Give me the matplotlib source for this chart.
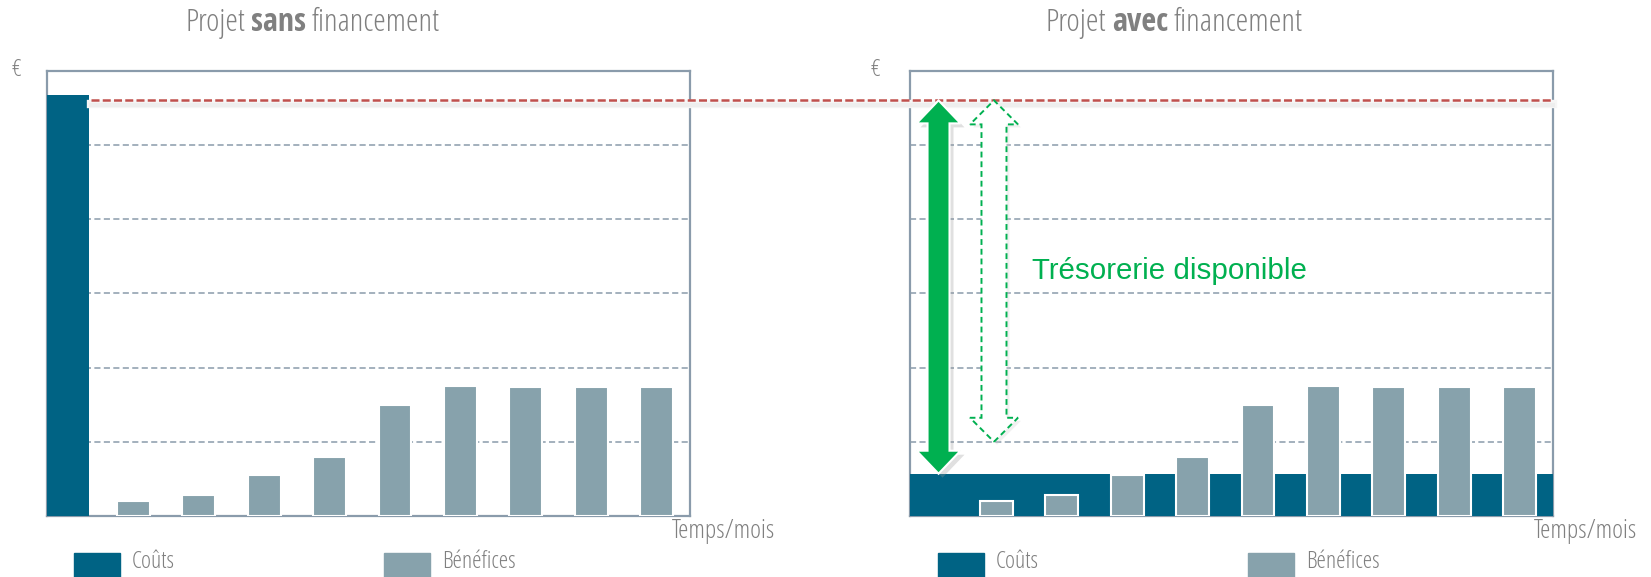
import os
import numpy as np
import matplotlib
matplotlib.use("Agg")
import matplotlib.pyplot as plt
from matplotlib import font_manager as fm
from matplotlib.patches import Polygon, Rectangle
from matplotlib.lines import Line2D
from matplotlib.transforms import IdentityTransform

W, H, DPI = 1651, 577, 100

# --- data (y in "grid units", 6 = top of the frame) ---
periods = np.arange(11)                 # cost columns
months = np.arange(1, 10)               # benefit columns
couts_sans = [5.67, 0, 0, 0, 0, 0, 0, 0, 0, 0, 0]
couts_avec = [0.57] * 11
benefices = [0.2, 0.28, 0.55, 0.8, 1.49, 1.75, 1.74, 1.74, 1.74]
seuil = 5.6            # red dashed line (initial cost level)
tresorerie_bas = 1.0   # bottom of the dashed arrow

titres = [("Projet", "sans", "financement"), ("Projet", "avec", "financement")]
legende = ["Coûts", "Bénéfices"]

DARK = "#006384"
GREY = "#87a2ac"
FRAME = "#8a9bab"
GREEN = "#00b050"
RED = "#c0504d"
TXT = "#808080"
SHRINK = 0.92   # narrow font is a bit taller than the original one

# narrow font files (light + semibold), first pair that is installed
PAIRS = [
    ("NotoSans-SemiCondensedLight", "NotoSans-SemiCondensedSemiBold"),
    ("NotoSans-SemiCondensed", "NotoSans-SemiCondensedBold"),
    ("NotoSans-SemiCondensedRegular", "NotoSans-SemiCondensedBold"),
    ("NotoSans-CondensedLight", "NotoSans-CondensedSemiBold"),
    ("NotoSans-Condensed", "NotoSans-CondensedBold"),
    ("OpenSans-CondLight", "OpenSans-CondBold"),
    ("RobotoCondensed-Light", "RobotoCondensed-Bold"),
    ("RobotoCondensed-Regular", "RobotoCondensed-Bold"),
    ("DejaVuSansCondensed", "DejaVuSansCondensed-Bold"),
]
files = {os.path.splitext(os.path.basename(f.fname))[0].lower(): f.fname
         for f in fm.fontManager.ttflist}
REG_FILE = BOLD_FILE = None
for r, b in PAIRS:
    if r.lower() in files and b.lower() in files:
        REG_FILE, BOLD_FILE = files[r.lower()], files[b.lower()]
        break


def fprop(size, weight="normal"):
    f = BOLD_FILE if weight == "bold" else REG_FILE
    if f is None:
        return fm.FontProperties(family="DejaVu Sans", weight=weight, size=size)
    return fm.FontProperties(fname=f, size=size)


fig = plt.figure(figsize=(W / DPI, H / DPI), dpi=DPI)
renderer = fig.canvas.get_renderer()


def text_w(s, prop):
    t = fig.text(0, 0, s, fontproperties=prop)
    w = t.get_window_extent(renderer).width
    t.remove()
    return w


def fit(s, target, weight="normal"):
    return 20 * target / text_w(s, fprop(20, weight)) * SHRINK


def box(x0, y0, x1, y1):
    # pixel box (origin top-left) -> figure fraction
    return [x0 / W, 1 - y1 / H, (x1 - x0) / W, (y1 - y0) / H]


def setup(ax, couts):
    ax.set_xlim(-0.14, 9.69)
    ax.set_ylim(0, 6)
    ax.set_yticks([1, 2, 3, 4, 5])
    ax.set_xticks([])
    ax.tick_params(left=False, labelleft=False)
    ax.grid(axis="y", color=FRAME, lw=1.1, ls=(0, (4, 2.2)))
    ax.set_axisbelow(True)
    for sp in ax.spines.values():
        sp.set_color(FRAME)
        sp.set_linewidth(1.6)
    ax.bar(periods, couts, width=1.0, color=DARK, edgecolor="none", zorder=2.6)
    ax.bar(months + 0.18, benefices, width=0.5, color=GREY,
           edgecolor="white", lw=1.5, zorder=2.7)


ax1 = fig.add_axes(box(47, 70.7, 690, 516))
ax2 = fig.add_axes(box(910, 70.7, 1553, 516))
setup(ax1, couts_sans)
setup(ax2, couts_avec)

# titles: regular / bold / regular pieces laid side by side
for (a, b, c), (x0, x1) in zip(titres, [(174, 451), (1034, 1314)]):
    size = 20
    for _ in range(2):
        p_r, p_b = fprop(size), fprop(size, "bold")
        sp = text_w("a a", p_r) - text_w("aa", p_r)
        wa, wb, wc = text_w(a, p_r), text_w(b, p_b), text_w(c, p_r)
        total = wa + wb + wc + 2 * sp
        size = size * (x1 - x0) / total
    size *= SHRINK
    p_r, p_b = fprop(size), fprop(size, "bold")
    sp = text_w("a a", p_r) - text_w("aa", p_r)
    wa, wb, wc = text_w(a, p_r), text_w(b, p_b), text_w(c, p_r)
    x = (x0 + x1) / 2 - (wa + wb + wc + 2 * sp) / 2
    for s, p, w in [(a, p_r, wa), (b, p_b, wb), (c, p_r, wc)]:
        fig.text(x / W, 1 - 31 / H, s, ha="left", va="baseline",
                 fontproperties=p, color=TXT)
        x += w + sp

s_temps = fit("Temps/mois", 112)
s_leg = fit("Bénéfices", 80)
for xe, xt in [(16.5, 775), (875, 1637)]:
    fig.text(xe / W, 1 - 70 / H, "€", ha="center", va="center",
             fontproperties=fprop(s_leg), color=TXT)
    fig.text(xt / W, 1 - 538 / H, "Temps/mois", ha="right", va="baseline",
             fontproperties=fprop(s_temps), color=TXT)

# legends
for x0 in [74, 938]:
    for dx, col, lab in [(0, DARK, legende[0]), (310, GREY, legende[1])]:
        fig.add_artist(Rectangle(((x0 + dx) / W, 0), 46 / W, 24 / H,
                                 transform=fig.transFigure, color=col))
        fig.text((x0 + dx + 58) / W, 1 - 567.5 / H, lab, ha="left",
                 va="baseline", fontproperties=fprop(s_leg), color=TXT)

# red dashed line across both panels, with a soft shadow
xs = ax1.transData.transform((0.54, seuil))[0]
xe_, ys = ax2.transData.transform((9.69, seuil))
for off, lw, col in [(4, 6, "#f6f6f6"), (5, 3, "#eeeeee")]:
    fig.add_artist(Line2D([xs, xe_], [ys - off, ys - off], transform=IdentityTransform(),
                          color=col, lw=lw, zorder=1))
fig.add_artist(Line2D([xs, xe_], [ys, ys], transform=IdentityTransform(),
                      color=RED, lw=1.8, ls=(0, (3.2, 1.3)), zorder=3))


def block_arrow(ax, x, y0, y1, shaft, head_w, head_l, shift=(0, 0), **kw):
    (xa, ya), (_, yb) = ax.transData.transform([(x, y0), (x, y1)])
    xa += shift[0]
    ya += shift[1]
    yb += shift[1]
    s, h = shaft / 2, head_w / 2
    pts = [(xa, ya), (xa + h, ya + head_l), (xa + s, ya + head_l),
           (xa + s, yb - head_l), (xa + h, yb - head_l), (xa, yb),
           (xa - h, yb - head_l), (xa - s, yb - head_l),
           (xa - s, ya + head_l), (xa - h, ya + head_l)]
    fig.add_artist(Polygon(pts, closed=True, transform=IdentityTransform(),
                           clip_on=False, **kw))


# solid arrow: cash freed by financing
block_arrow(ax2, 0.296, couts_avec[0], seuil, 22, 44, 23, shift=(4, -4),
            facecolor="#9a9a9a", edgecolor="none", alpha=0.3, zorder=4)
block_arrow(ax2, 0.296, couts_avec[0], seuil, 22, 44, 23,
            facecolor=GREEN, edgecolor="white", lw=1.5, zorder=5)
# dashed arrow
block_arrow(ax2, 1.144, tresorerie_bas, seuil, 25, 48, 24, shift=(3, -3),
            facecolor="#d0d0d0", edgecolor="none", alpha=0.3, zorder=4)
block_arrow(ax2, 1.144, tresorerie_bas, seuil, 25, 48, 24,
            facecolor="white", edgecolor=GREEN, lw=1.4, ls=(0, (3, 2)), zorder=5)

green_prop = fm.FontProperties(family=["Liberation Sans", "DejaVu Sans"], size=20)
g_size = 20 * 274 / text_w("Trésorerie disponible", green_prop)
ax2.text(3.82, 3.2, "Trésorerie disponible", ha="center", va="baseline",
         fontsize=g_size, color=GREEN, family=["Liberation Sans", "DejaVu Sans"],
         zorder=6)

fig.savefig("out.png", dpi=DPI)
